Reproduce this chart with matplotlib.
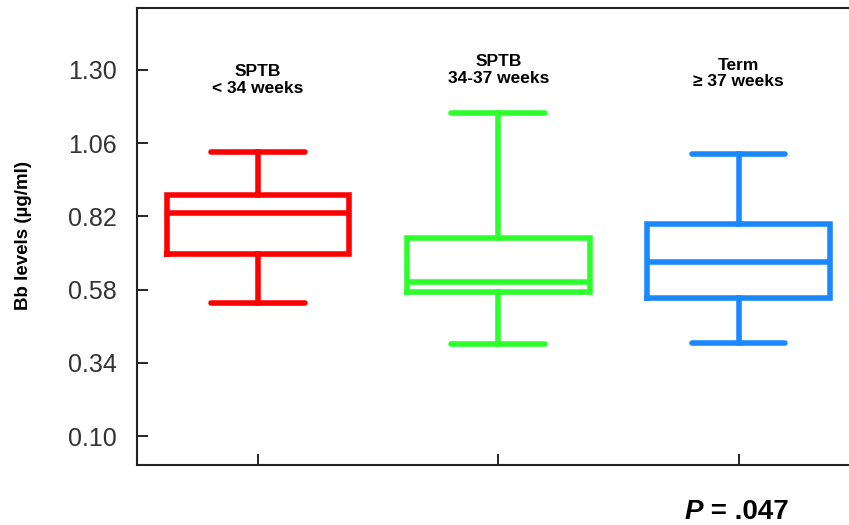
import matplotlib
matplotlib.use("Agg")
import matplotlib.pyplot as plt

# values
groups = ["SPTB\n< 34 weeks", "SPTB\n34-37 weeks", "Term\n\u2265 37 weeks"]
whisker_low = [0.536, 0.402, 0.405]
q1 = [0.697, 0.572, 0.552]
medians = [0.831, 0.605, 0.670]
q3 = [0.890, 0.749, 0.795]
whisker_high = [1.031, 1.159, 1.024]
label_y = [1.267, 1.300, 1.288]
colors = ["#ff0000", "#2dff2d", "#1a88ff"]
yticks = [0.10, 0.34, 0.58, 0.82, 1.06, 1.30]

plt.rcParams['font.family'] = ['Liberation Sans', 'DejaVu Sans']

fig = plt.figure(figsize=(8.49, 5.25), dpi=100)
ax = fig.add_axes([0.1614, 0.1143, 0.8386, 0.8705])

for i in range(len(groups)):
    stats = [{
        "whislo": whisker_low[i], "q1": q1[i], "med": medians[i],
        "q3": q3[i], "whishi": whisker_high[i], "fliers": [],
    }]
    c = colors[i]
    ax.bxp(stats, positions=[i + 1], widths=0.76, capwidths=0.39,
           showfliers=False,
           boxprops=dict(color=c, linewidth=4, solid_joinstyle='miter'),
           whiskerprops=dict(color=c, linewidth=4),
           capprops=dict(color=c, linewidth=4, solid_capstyle='round'),
           medianprops=dict(color=c, linewidth=4))
    ax.text(i + 1, label_y[i], groups[i], ha='center', va='center',
            fontsize=12.5, fontweight='bold', linespacing=1.15)

ax.set_xlim(0.496, 3.46)
ax.set_ylim(0.005, 1.503)
ax.set_yticks(yticks)
ax.set_yticklabels(["%.2f" % v for v in yticks])
ax.set_xticks([1, 2, 3])
ax.set_xticklabels([])
ax.tick_params(axis='y', direction='in', length=8, width=1.2, labelsize=18,
               labelcolor='#333333', pad=14.5)
ax.tick_params(axis='x', direction='in', length=8, width=1.2)
ax.spines['right'].set_visible(False)
for s in ['left', 'top', 'bottom']:
    ax.spines[s].set_linewidth(1.5)
    ax.spines[s].set_color('#222222')

fig.text(0.028, 0.551, "Bb levels (\u00b5g/ml)", rotation=90, ha='center',
         va='center', fontsize=13.5, fontweight='bold')

p = fig.text(0.806, 0.012, "P", fontsize=20, fontweight='bold',
             fontstyle='italic', ha='left', va='baseline')
ax.annotate(" = .047", xy=(1, 0), xycoords=p, va='bottom', ha='left',
            fontsize=20, fontweight='bold')

fig.savefig("out.png", dpi=100)
